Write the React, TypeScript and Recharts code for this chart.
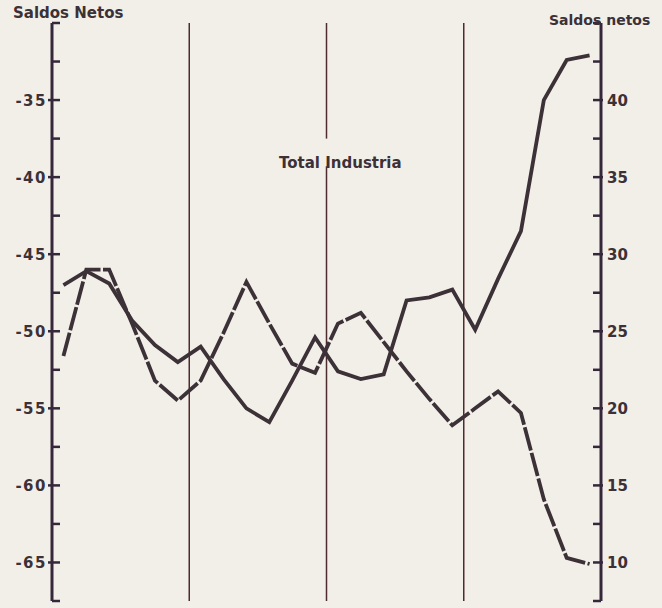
import { LineChart, Line, XAxis, YAxis, ReferenceLine } from 'recharts'

// 4 años x 6 bimestres
const periodos = [
  '1-1', '1-2', '1-3', '1-4', '1-5', '1-6',
  '2-1', '2-2', '2-3', '2-4', '2-5', '2-6',
  '3-1', '3-2', '3-3', '3-4', '3-5', '3-6',
  '4-1', '4-2', '4-3', '4-4', '4-5', '4-6',
]

// eje izquierdo (linea de trazos)
const saldosIzq = [
  -51.6, -46.0, -46.0, -49.5, -53.2, -54.5,
  -53.2, -50.1, -46.8, -49.5, -52.1, -52.7,
  -49.5, -48.8, -50.7, -52.6, -54.4, -56.1,
  -55.0, -53.9, -55.3, -60.9, -64.7, -65.1,
]

// eje derecho (linea continua)
const saldosDer = [
  28.0, 28.9, 28.1, 25.7, 24.1, 23.0,
  24.0, 21.9, 20.0, 19.1, 21.8, 24.6,
  22.4, 21.9, 22.2, 27.0, 27.2, 27.7,
  25.1, 28.4, 31.5, 40.0, 42.6, 42.9,
]

const ticksIzq = [-67.5, -65, -62.5, -60, -57.5, -55, -52.5, -50, -47.5, -45, -42.5, -40, -37.5, -35, -32.5, -30]
const etiquetasIzq = [-65, -60, -55, -50, -45, -40, -35]
const ticksDer = [7.5, 10, 12.5, 15, 17.5, 20, 22.5, 25, 27.5, 30, 32.5, 35, 37.5, 40, 42.5, 45]
const etiquetasDer = [10, 15, 20, 25, 30, 35, 40]
const cortes = [5.5, 11.5, 17.5]

const data = periodos.map((p, i) => ({ i, periodo: p, izq: saldosIzq[i], der: saldosDer[i] }))

const TINTA = '#3b3137'
const EJE = '#35283a'
const DIV = '#4e2c2e'
const FONT = '"DejaVu Sans", sans-serif'

function TickIzq({ x, y, payload }: any) {
  const major = etiquetasIzq.includes(payload.value)
  return (
    <g>
      <line x1={major ? x - 4 : x} x2={x + 8} y1={y} y2={y} stroke={EJE} strokeWidth={2.5} />
      {major && (
        <text x={x - 5} y={y} dy={5.5} textAnchor="end" fontFamily={FONT} fontWeight="bold" fontSize={15} letterSpacing={1.5} fill={TINTA}>
          {payload.value}
        </text>
      )}
    </g>
  )
}

function TickDer({ x, y, payload }: any) {
  const major = etiquetasDer.includes(payload.value)
  return (
    <g>
      <line x1={x - 8} x2={major ? x + 2 : x} y1={y} y2={y} stroke={EJE} strokeWidth={2.5} />
      {major && (
        <text x={x + 6} y={y} dy={5.5} textAnchor="start" fontFamily={FONT} fontWeight="bold" fontSize={15} fill={TINTA}>
          {payload.value}
        </text>
      )}
    </g>
  )
}

export default function App() {
  const titulo = { position: 'absolute' as const, fontFamily: FONT, fontWeight: 'bold' as const, lineHeight: 1, color: TINTA, whiteSpace: 'nowrap' as const }
  return (
    <div style={{ position: 'absolute', left: 0, top: 0, width: 662, height: 608, background: '#f2efe9', overflow: 'hidden' }}>
      <LineChart width={662} height={608} data={data} margin={{ top: 23, right: 0, bottom: 7, left: 0 }}>
        <XAxis type="number" dataKey="i" domain={[-0.5, 23.5]} hide />
        <YAxis
          yAxisId="left"
          orientation="left"
          width={52}
          domain={[-67.5, -30]}
          ticks={ticksIzq}
          interval={0}
          tickSize={0}
          tickMargin={0}
          tickLine={false}
          axisLine={{ stroke: EJE, strokeWidth: 3 }}
          tick={(p: any) => <TickIzq {...p} />}
        />
        <YAxis
          yAxisId="right"
          orientation="right"
          width={61}
          domain={[7.5, 45]}
          ticks={ticksDer}
          interval={0}
          tickSize={0}
          tickMargin={0}
          tickLine={false}
          axisLine={{ stroke: EJE, strokeWidth: 3 }}
          tick={(p: any) => <TickDer {...p} />}
        />
        {cortes.filter((c) => c !== 11.5).map((c) => (
          <ReferenceLine key={c} yAxisId="left" x={c} stroke={DIV} strokeWidth={1.5} />
        ))}
        <ReferenceLine yAxisId="left" segment={[{ x: 11.5, y: -30 }, { x: 11.5, y: -37.5 }]} stroke={DIV} strokeWidth={1.5} />
        <ReferenceLine yAxisId="left" segment={[{ x: 11.5, y: -39.3 }, { x: 11.5, y: -67.5 }]} stroke={DIV} strokeWidth={1.5} />
        <Line yAxisId="left" type="linear" dataKey="izq" stroke={TINTA} strokeWidth={3.8} strokeDasharray="24 2.5" dot={false} isAnimationActive={false} />
        <Line yAxisId="right" type="linear" dataKey="der" stroke={TINTA} strokeWidth={3.8} dot={false} isAnimationActive={false} />
      </LineChart>
      <div style={{ ...titulo, left: 13, top: 6, fontSize: 15 }}>Saldos Netos</div>
      <div style={{ ...titulo, left: 549, top: 13, fontSize: 14 }}>Saldos netos</div>
      <div style={{ ...titulo, left: 279, top: 156, fontSize: 15 }}>Total Industria</div>
    </div>
  )
}
